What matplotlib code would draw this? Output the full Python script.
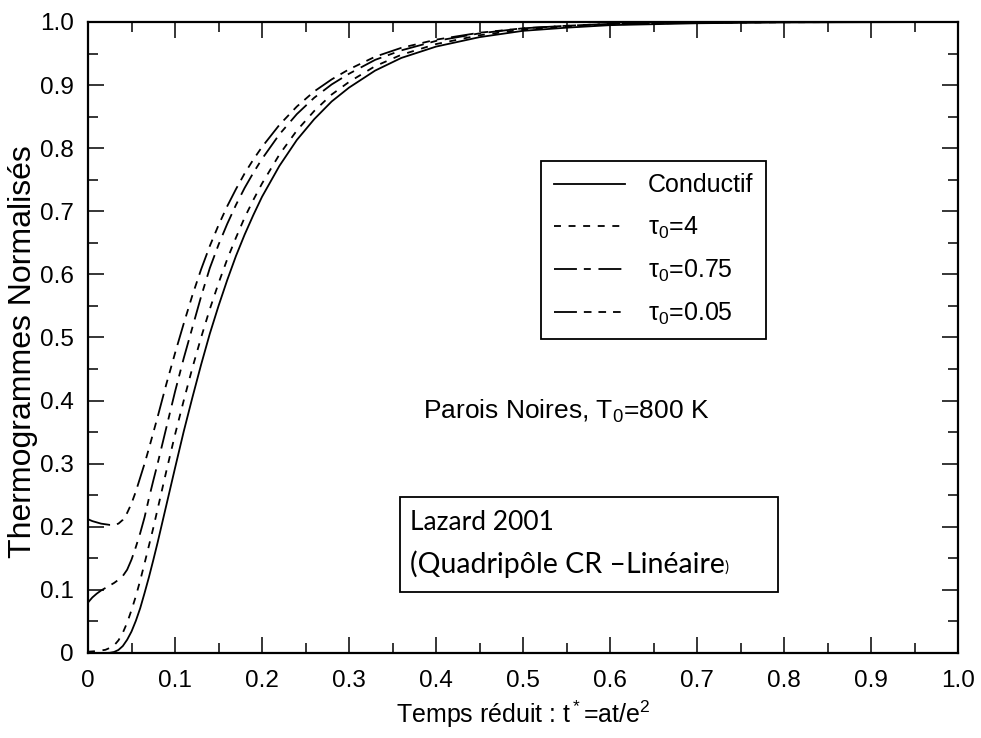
import numpy as np
import matplotlib
matplotlib.use("Agg")
import matplotlib.pyplot as plt
from matplotlib.patches import Rectangle

plt.rcParams['font.family'] = ['Liberation Sans', 'DejaVu Sans']
plt.rcParams['mathtext.fontset'] = 'custom'
plt.rcParams['mathtext.rm'] = 'Liberation Sans'
plt.rcParams['mathtext.it'] = 'Liberation Sans'
plt.rcParams['lines.scale_dashes'] = False

# values
t_cond = [0, 0.01, 0.02, 0.025, 0.03, 0.035, 0.04, 0.045, 0.05, 0.055, 0.06, 0.065, 0.07, 0.075,
          0.08, 0.09, 0.10, 0.11, 0.12, 0.13, 0.14, 0.15, 0.16, 0.17, 0.18, 0.19, 0.20, 0.22,
          0.24, 0.26, 0.28, 0.30, 0.33, 0.36, 0.40, 0.45, 0.50, 0.55, 0.60, 0.70, 0.80, 0.90, 1.0]
y_cond = [0, 0, 0, 0.0003, 0.0016, 0.0048, 0.011, 0.021, 0.034, 0.051, 0.071, 0.095, 0.120, 0.147,
          0.175, 0.234, 0.293, 0.351, 0.405, 0.457, 0.506, 0.550, 0.591, 0.629, 0.663, 0.694, 0.723, 0.772,
          0.813, 0.846, 0.874, 0.896, 0.923, 0.943, 0.961, 0.976, 0.986, 0.991, 0.995, 0.998, 0.9993, 0.9997, 1.0]

t_tau4 = [0, 0.01, 0.02, 0.025, 0.03, 0.035, 0.04, 0.045, 0.05, 0.055, 0.06, 0.065, 0.07, 0.075,
          0.08, 0.09, 0.10, 0.11, 0.12, 0.13, 0.14, 0.15, 0.16, 0.17, 0.18, 0.19, 0.20, 0.22,
          0.24, 0.26, 0.28, 0.30, 0.33, 0.36, 0.40, 0.45, 0.50, 0.55, 0.60, 0.70, 0.80, 0.90, 1.0]
y_tau4 = [0.002, 0.003, 0.005, 0.008, 0.012, 0.020, 0.032, 0.048, 0.068, 0.090, 0.115, 0.142, 0.170, 0.198,
          0.228, 0.288, 0.346, 0.400, 0.452, 0.500, 0.545, 0.586, 0.624, 0.658, 0.690, 0.718, 0.744, 0.790,
          0.828, 0.859, 0.885, 0.905, 0.930, 0.948, 0.965, 0.979, 0.988, 0.993, 0.996, 0.999, 0.9996, 1.0, 1.0]

t_tau075 = [0, 0.005, 0.01, 0.015, 0.02, 0.025, 0.03, 0.035, 0.04, 0.045, 0.05, 0.055, 0.06, 0.065,
            0.07, 0.075, 0.08, 0.09, 0.10, 0.11, 0.12, 0.13, 0.14, 0.15, 0.16, 0.17, 0.18, 0.19,
            0.20, 0.22, 0.24, 0.26, 0.28, 0.30, 0.33, 0.36, 0.40, 0.45, 0.50, 0.55, 0.60, 0.70, 0.80, 1.0]
y_tau075 = [0.080, 0.088, 0.094, 0.099, 0.103, 0.107, 0.111, 0.116, 0.122, 0.132, 0.148, 0.168, 0.190, 0.215,
            0.245, 0.273, 0.300, 0.357, 0.414, 0.467, 0.516, 0.565, 0.610, 0.647, 0.680, 0.710, 0.737, 0.761,
            0.783, 0.822, 0.854, 0.880, 0.901, 0.918, 0.940, 0.955, 0.970, 0.982, 0.990, 0.994, 0.997, 0.999, 1.0, 1.0]

t_tau005 = [0, 0.005, 0.01, 0.015, 0.02, 0.025, 0.03, 0.035, 0.04, 0.045, 0.05, 0.055, 0.06, 0.065,
            0.07, 0.075, 0.08, 0.09, 0.10, 0.11, 0.12, 0.13, 0.14, 0.15, 0.16, 0.17, 0.18, 0.19,
            0.20, 0.22, 0.24, 0.26, 0.28, 0.30, 0.33, 0.36, 0.40, 0.45, 0.50, 0.55, 0.60, 0.70, 0.80, 1.0]
y_tau005 = [0.212, 0.209, 0.207, 0.205, 0.204, 0.203, 0.203, 0.205, 0.211, 0.222, 0.237, 0.256, 0.278, 0.300,
            0.324, 0.349, 0.374, 0.426, 0.475, 0.522, 0.567, 0.608, 0.645, 0.678, 0.708, 0.735, 0.760, 0.782,
            0.802, 0.837, 0.866, 0.890, 0.909, 0.925, 0.945, 0.959, 0.972, 0.983, 0.990, 0.994, 0.997, 0.999, 1.0, 1.0]

labels = ['Conductif', 'τ$_0$=4', 'τ$_0$=0.75', 'τ$_0$=0.05']

fig = plt.figure(figsize=(9.81, 7.38), dpi=100)
ax = fig.add_axes([0.0897, 0.1152, 0.887, 0.855])

ax.plot(t_cond, y_cond, color='black', lw=1.3, label=labels[0])
ax.plot(t_tau4, y_tau4, color='black', lw=1.3, dashes=(5, 5.5), label=labels[1])
ax.plot(t_tau075, y_tau075, color='black', lw=1.3, dashes=(16.5, 5, 5, 5.5), label=labels[2])
ax.plot(t_tau005, y_tau005, color='black', lw=1.3, dashes=(16.5, 5, 5.5, 5, 5.5, 5, 5.5, 5), label=labels[3])

ax.set_xlim(0, 1)
ax.set_ylim(0, 1)
ticks = np.arange(0, 1.01, 0.1)
ticklabels = ['0'] + ['%.1f' % v for v in ticks[1:]]
ax.set_xticks(ticks)
ax.set_xticklabels(ticklabels)
ax.set_yticks(ticks)
ax.set_yticklabels(ticklabels)
ax.set_xticks(np.arange(0.05, 1, 0.1), minor=True)
ax.set_yticks(np.arange(0.05, 1, 0.1), minor=True)
ax.tick_params(which='both', direction='in', top=True, right=True, labelsize=17.5, width=1.1)
ax.tick_params(which='major', length=11.5)
ax.tick_params(which='minor', length=7)
ax.tick_params(axis='x', pad=12)
ax.tick_params(axis='y', pad=10)
for s in ax.spines.values():
    s.set_linewidth(1.6)

ax.set_xlabel('Temps réduit : t$^*$=at/e$^2$', fontsize=18, labelpad=5)
ax.set_ylabel('Thermogrammes Normalisés', fontsize=23)
ax.yaxis.set_label_coords(-0.057, 0.477)

leg = ax.legend(loc='upper left', bbox_to_anchor=(0.521, 0.78), borderaxespad=0,
                fontsize=18, handlelength=2.85, handletextpad=0.9, labelspacing=0.68,
                borderpad=0.5, fancybox=False, edgecolor='black', framealpha=1)
leg.get_frame().set_linewidth(1.3)

ax.text(0.385, 0.383, 'Parois Noires, T$_0$=800 K', fontsize=19, va='center', ha='left')

ax.add_patch(Rectangle((0.3586, 0.0967), 0.4345, 0.1505, transform=ax.transAxes,
                       fill=False, edgecolor='black', lw=1.3))
ax.text(0.370, 0.207, 'Lazard 2001', fontsize=19, family=['Lato', 'DejaVu Sans'],
        va='center', ha='left')
t2 = ax.text(0.370, 0.140, '(Quadripôle CR –Linéaire', fontsize=20.5, family=['Lato', 'DejaVu Sans'],
             va='center', ha='left')
ax.annotate(')', xy=(1.0, 0.12), xycoords=t2, fontsize=11, family=['Lato', 'DejaVu Sans'],
            va='bottom', ha='left')

fig.savefig('out.png', dpi=100)
